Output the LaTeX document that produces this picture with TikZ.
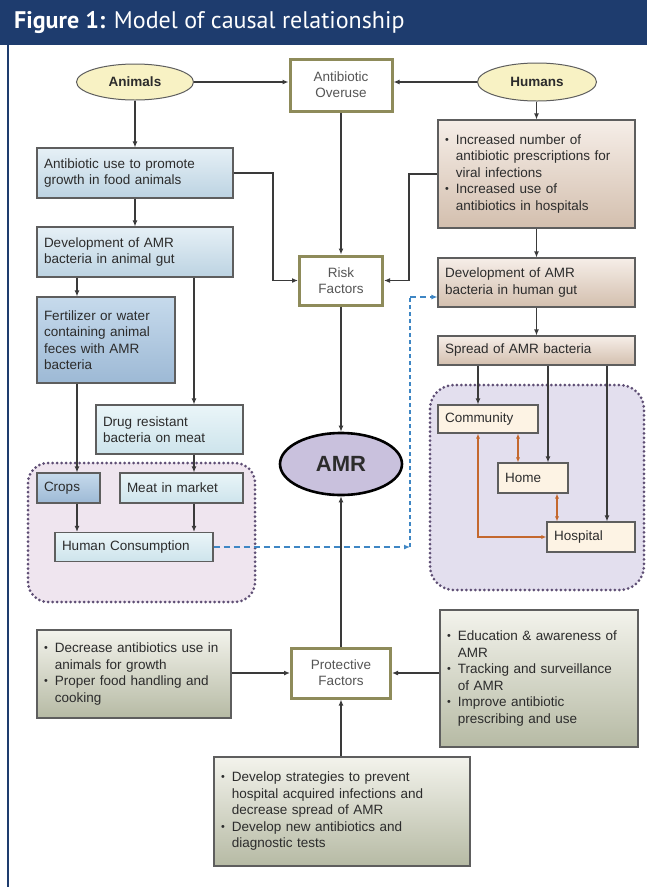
\documentclass[tikz,border=0pt]{standalone}
\usepackage{fontspec}
\setmainfont{Liberation Sans}
\newfontfamily\titlefont{PT Sans}
\usetikzlibrary{arrows.meta,shapes.geometric,calc}
\definecolor{navy}{HTML}{1E3C6E}
\definecolor{lncol}{HTML}{3A3A3A}
\definecolor{txt}{HTML}{2C2C2C}
\definecolor{gtxt}{HTML}{555555}
\definecolor{bdr}{HTML}{5E5E5E}
\definecolor{olv}{HTML}{8E8B5A}
\definecolor{bA1}{HTML}{E6F0F6}
\definecolor{bA2}{HTML}{BCD3E2}
\definecolor{bB1}{HTML}{C6DAEC}
\definecolor{bB2}{HTML}{9DB9D5}
\definecolor{bC1}{HTML}{EAF5F8}
\definecolor{bC2}{HTML}{CDE4EC}
\definecolor{tn1}{HTML}{F6EEE8}
\definecolor{tn2}{HTML}{D3BFAE}
\definecolor{crm}{HTML}{FDF3E4}
\definecolor{gg1}{HTML}{F3F3EC}
\definecolor{gg2}{HTML}{B6BAA4}
\definecolor{ylw}{HTML}{F8F2C4}
\definecolor{lav}{HTML}{C9C1DD}
\definecolor{regL}{HTML}{EFE5EF}
\definecolor{regR}{HTML}{E3DFEE}
\definecolor{dotc}{HTML}{5E4E74}
\definecolor{orn}{HTML}{C4682E}
\definecolor{dbl}{HTML}{3E86C4}
\newcommand{\bodyfont}{\fontsize{13.5}{16.5}\selectfont}
\newcommand{\blist}[1]{\begin{tabular}{@{}l@{\hspace{7pt}}l@{}}#1\end{tabular}}
\newcommand{\bul}{\raisebox{1pt}{\scalebox{0.8}{\textbullet}}}
\begin{document}
\begin{tikzpicture}[x=1pt,y=-1pt,
  ln/.style={draw=lncol, line width=1.6pt, -{Latex[length=6pt,width=5pt]}},
  orna/.style={draw=orn, line width=1.6pt, {Latex[length=5pt,width=4pt]}-{Latex[length=5pt,width=4pt]}},
  dsh/.style={draw=dbl, line width=2pt, dash pattern=on 6pt off 4pt, -{Latex[length=6pt,width=5pt]}},
  dshv/.style={draw=dbl, line width=1.6pt, dash pattern=on 4pt off 3pt},
  box/.style={draw=bdr, line width=1.1pt, inner xsep=7pt, inner ysep=2pt, align=left, font=\bodyfont, text=txt},
  blueA/.style={box, top color=bA1, bottom color=bA2},
  blueB/.style={box, top color=bB1, bottom color=bB2},
  blueC/.style={box, top color=bC1, bottom color=bC2},
  tan/.style={box, top color=tn1, bottom color=tn2},
  cream/.style={box, fill=crm},
  grn/.style={box, top color=gg1, bottom color=gg2},
  olbox/.style={draw=olv, line width=3pt, fill=white, align=center, font=\fontsize{13.5}{16}\selectfont, text=gtxt, inner sep=2pt},
  oval/.style={ellipse, draw=bdr, line width=1pt, fill=ylw, font=\bfseries\fontsize{13.5}{16}\selectfont, text=txt, inner sep=0pt},
  region/.style={draw=dotc, line width=3pt, dash pattern=on 0pt off 4.5pt, line cap=round}
]
\useasboundingbox (0,0) rectangle (647,887);
\fill[white] (0,0) rectangle (647,887);
% header
\fill[navy] (0,0) rectangle (647,45);
\draw[navy, line width=2pt] (8,45) -- (8,887);
\node[anchor=west, text=white, font=\titlefont\fontsize{24}{28}\selectfont, inner sep=0pt] (title) at (14,22) {\textbf{Figure 1:} Model of causal relationship};
% regions
\draw[region, fill=regL, rounded corners=20pt] (28,463) rectangle (255,602);
\draw[region, fill=regR, rounded corners=24pt] (430,385) rectangle (644,590);
% top nodes
\node[oval, minimum width=117pt, minimum height=36pt] (animals) at (135,82) {Animals};
\node[oval, minimum width=119pt, minimum height=38pt] (humans) at (537,82) {Humans};
\node[olbox, minimum width=102pt, minimum height=52pt] (overuse) at (341,85) {Antibiotic\\Overuse};
\node[olbox, minimum width=83pt, minimum height=49pt] (risk) at (341,280.5) {Risk\\Factors};
\node[olbox, minimum width=99pt, minimum height=50pt] (protective) at (341,673) {Protective\\Factors};
\node[ellipse, draw=black, line width=2.6pt, fill=lav, minimum width=122pt, minimum height=62pt, font=\bfseries\fontsize{22}{26}\selectfont, text=txt] (amr) at (341,464) {AMR};
% left column
\node[blueA, text width=182pt, minimum height=50pt] (use) at (135,173) {Antibiotic use to promote\\growth in food animals};
\node[blueA, text width=182pt, minimum height=50pt] (devA) at (135,252) {Development of AMR\\bacteria in animal gut};
\node[blueB, text width=124pt, minimum height=86pt] (fert) at (106,340) {Fertilizer or water\\containing animal\\feces with AMR\\bacteria};
\node[blueC, text width=133pt, minimum height=49pt] (drug) at (169.5,429.5) {Drug resistant\\bacteria on meat};
\node[blueB, text width=49pt, minimum height=30pt] (crops) at (68.5,488) {Crops};
\node[blueC, text width=109pt, minimum height=30pt] (meat) at (181.5,488) {Meat in market};
\node[blueC, text width=144pt, minimum height=29pt] (hc) at (134,547) {Human Consumption};
% right column
\node[tan, text width=183pt, minimum height=108pt] (hbox) at (536.5,174) {\blist{\bul & Increased number of\\ & antibiotic prescriptions for\\ & viral infections\\ \bul & Increased use of\\ & antibiotics in hospitals}};
\node[tan, text width=183pt, minimum height=49pt] (devH) at (536.5,282.5) {Development of AMR\\bacteria in human gut};
\node[tan, text width=183pt, minimum height=29pt] (spread) at (536.5,350.5) {Spread of AMR bacteria};
\node[cream, text width=86pt, minimum height=28pt] (community) at (488,419) {Community};
\node[cream, text width=56pt, minimum height=30pt] (home) at (533,478) {Home};
\node[cream, text width=74pt, minimum height=30pt] (hospital) at (591,537) {Hospital};
% protective boxes
\node[grn, text width=180pt, minimum height=88pt] (leftP) at (134,674) {\blist{\bul & Decrease antibiotics use in\\ & animals for growth\\ \bul & Proper food handling and\\ & cooking}};
\node[grn, text width=184pt, minimum height=137pt] (rightP) at (539,678.5) {\blist{\bul & Education \& awareness of\\ & AMR\\ \bul & Tracking and surveillance\\ & of AMR\\ \bul & Improve antibiotic\\ & prescribing and use}};
\node[grn, text width=242pt, minimum height=109pt] (bottomP) at (342,811.5) {\blist{\bul & Develop strategies to prevent\\ & hospital acquired infections and\\ & decrease spread of AMR\\ \bul & Develop new antibiotics and\\ & diagnostic tests}};
% helper coordinates
\coordinate (xA) at (77,0);
\coordinate (xB) at (194,0);
\coordinate (xC) at (478,0);
\coordinate (xH) at (548,0);
\coordinate (xP) at (607,0);
\coordinate (xCH) at (518,0);
\coordinate (xHH) at (557,0);
\coordinate (cL) at (273,280.5);
\coordinate (cR) at (409,280.5);
\coordinate (dX) at (410,0);
\coordinate (dTop) at (410,297);
% connectors
\draw[ln] (animals) -- (animals -| overuse.west);
\draw[ln] (humans) -- (humans -| overuse.east);
\draw[ln] (animals) -- (use);
\draw[ln] (overuse) -- (risk);
\draw[ln] (humans.south -| hbox.north) -- (hbox.north);
\draw[ln] (use.east) -| (cL) -- (risk.west);
\draw[ln] (hbox.west) -| (cR) -- (risk.east);
\draw[ln] (risk) -- (amr);
\draw[ln] (protective) -- (amr);
\draw[ln] (use) -- (devA);
\draw[ln] (devA.south -| xA) -- (fert.north -| xA);
\draw[ln] (devA.south -| xB) -- (drug.north -| xB);
\draw[ln] (fert.south -| xA) -- (crops.north -| xA);
\draw[ln] (drug.south -| xB) -- (meat.north -| xB);
\draw[ln] (crops.south -| xA) -- (hc.north -| xA);
\draw[ln] (meat.south -| xB) -- (hc.north -| xB);
\draw[dsh] (hc.east) -- (hc.east -| dX);
\draw[dshv] (hc.east -| dX) -- (dTop);
\draw[dsh] (dTop) -- (dTop -| devH.west);
\draw[ln] (hbox) -- (devH);
\draw[ln] (devH) -- (spread);
\draw[ln] (spread.south -| xC) -- (community.north -| xC);
\draw[ln] (spread.south -| xH) -- (home.north -| xH);
\draw[ln] (spread.south -| xP) -- (hospital.north -| xP);
\draw[orna] (community.south -| xCH) -- (home.north -| xCH);
\draw[orna] (home.south -| xHH) -- (hospital.north -| xHH);
\draw[orna] (community.south -| xC) |- (hospital.west);
\draw[ln] (leftP.east |- protective) -- (protective.west);
\draw[ln] (rightP.west |- protective) -- (protective.east);
\draw[ln] (bottomP.north -| protective) -- (protective.south);
\end{tikzpicture}
\end{document}
